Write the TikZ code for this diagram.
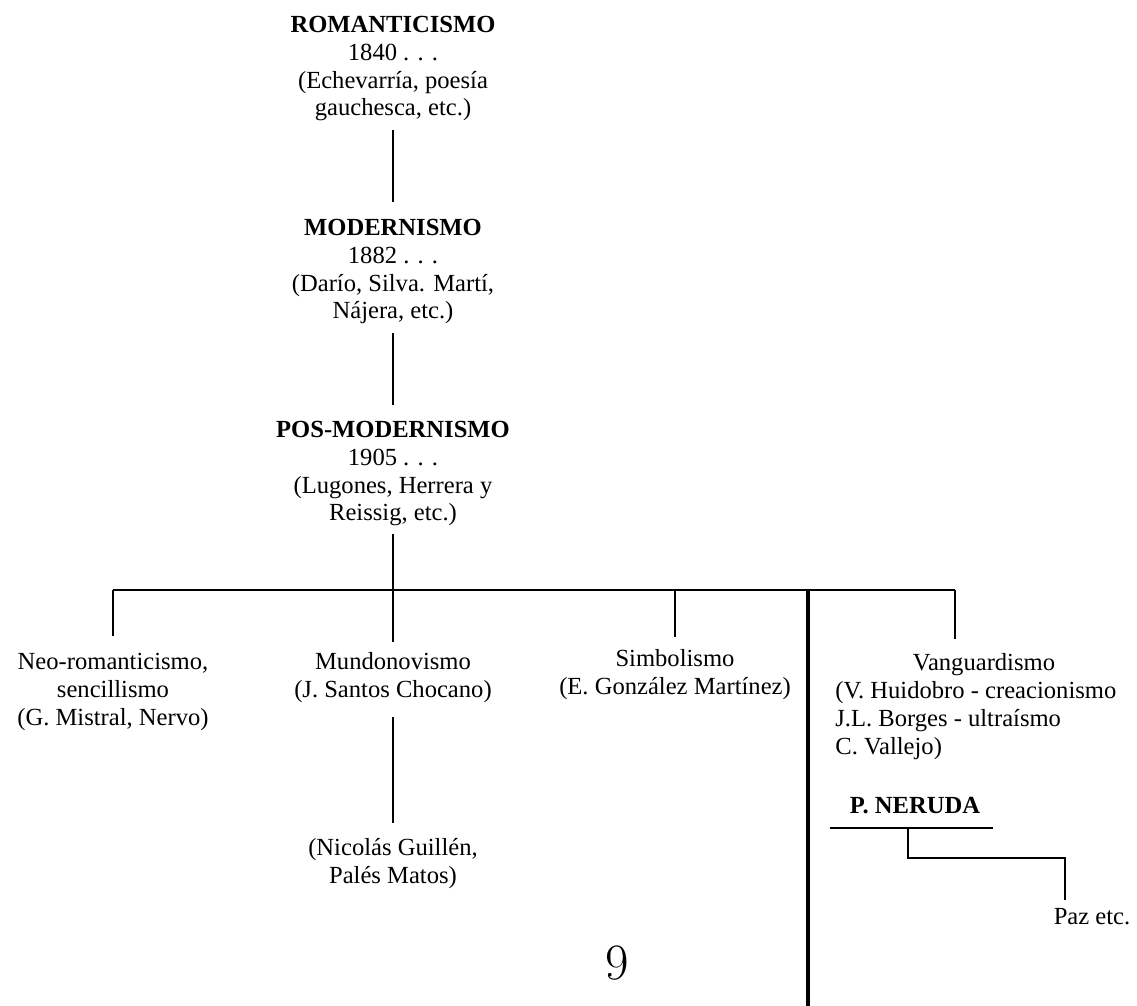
\documentclass[tikz,border=0pt]{standalone}
\usepackage{fontspec}
\setmainfont{Liberation Serif}
\newfontfamily\numfont{Latin Modern Roman}

\begin{document}
\begin{tikzpicture}[x=0.02cm, y=-0.02cm,
    blk/.style={align=center, anchor=north, inner sep=0pt, font=\fontsize{14}{15.9}\selectfont},
    link/.style={line width=1.1pt}]
    \useasboundingbox (0,0) rectangle (1137,1006);

    % main line of periods
    \node[blk] (rom) at (393,15.5) {\textbf{ROMANTICISMO}\\1840 . . .\\(Echevarría, poesía\\gauchesca, etc.)};
    \node[blk] (mod) at (393,218.5) {\textbf{MODERNISMO}\\1882 . . .\\(Darío, Silva. Martí,\\Nájera, etc.)};
    \node[blk] (pos) at (393,420.5) {\textbf{POS-MODERNISMO}\\1905 . . .\\(Lugones, Herrera y\\Reissig, etc.)};

    \draw[link, shorten <=5pt, shorten >=9.4pt] (rom.south) -- (mod.north);
    \draw[link, shorten <=5pt, shorten >=8.8pt] (mod.south) -- (pos.north);

    % branches
    \node[blk] (neo) at (113,652.5) {Neo-romanticismo,\\sencillismo\\(G. Mistral, Nervo)};
    \node[blk] (mundo) at (393,652.5) {Mundonovismo\\(J. Santos Chocano)};
    \node[blk] (guillen) at (393,838.5) {(Nicolás Guillén,\\Palés Matos)};
    \node[blk] (simb) at (675,649.5) {Simbolismo\\(E. González Martínez)};
    \node[blk] (vang) at (984,653.5) {Vanguardismo};
    \node[blk, align=left, anchor=north west] (vlist) at (835,681.5) {(V. Huidobro - creacionismo\\J.L. Borges - ultraísmo\\C. Vallejo)};

    \coordinate (bl) at (113,590);
    \coordinate (br) at (955,590);
    \draw[link] (bl) -- (br);
    \draw[link, shorten <=4pt, shorten >=6pt] (pos.south) -- (mundo.north);
    \draw[link, shorten >=9.4pt] (bl) -- (neo.north);
    \draw[link, shorten >=7pt] (simb.north |- bl) -- (simb.north);
    \draw[link, shorten >=8.2pt] (br) -- (br |- vang.north);
    \draw[link, shorten <=8pt, shorten >=8.8pt] (mundo.south) -- (guillen.north);

    % divider
    \coordinate (dtop) at (808,590);
    \coordinate (dbot) at (808,1006);
    \draw[line width=2pt] (dtop) -- (dbot);

    % Neruda and after
    \node[blk, font=\fontsize{14}{15.9}\selectfont\bfseries] (neruda) at (915,796.5) {P. NERUDA};
    \node[blk] (paz) at (1092,908.5) {Paz etc.};
    \coordinate (nl) at (830,828);
    \coordinate (nr) at (993,828);
    \coordinate (ns) at (908,828);
    \coordinate (pk) at (1065,858);
    \draw[link] (nl) -- (nr);
    \draw[link, shorten >=4.8pt] (ns) |- (pk) -- (pk |- paz.north);

    % page number
    \node[font=\numfont\fontsize{29}{31}\selectfont, inner sep=0pt] (pg) at (617,963) {9};
\end{tikzpicture}
\end{document}
